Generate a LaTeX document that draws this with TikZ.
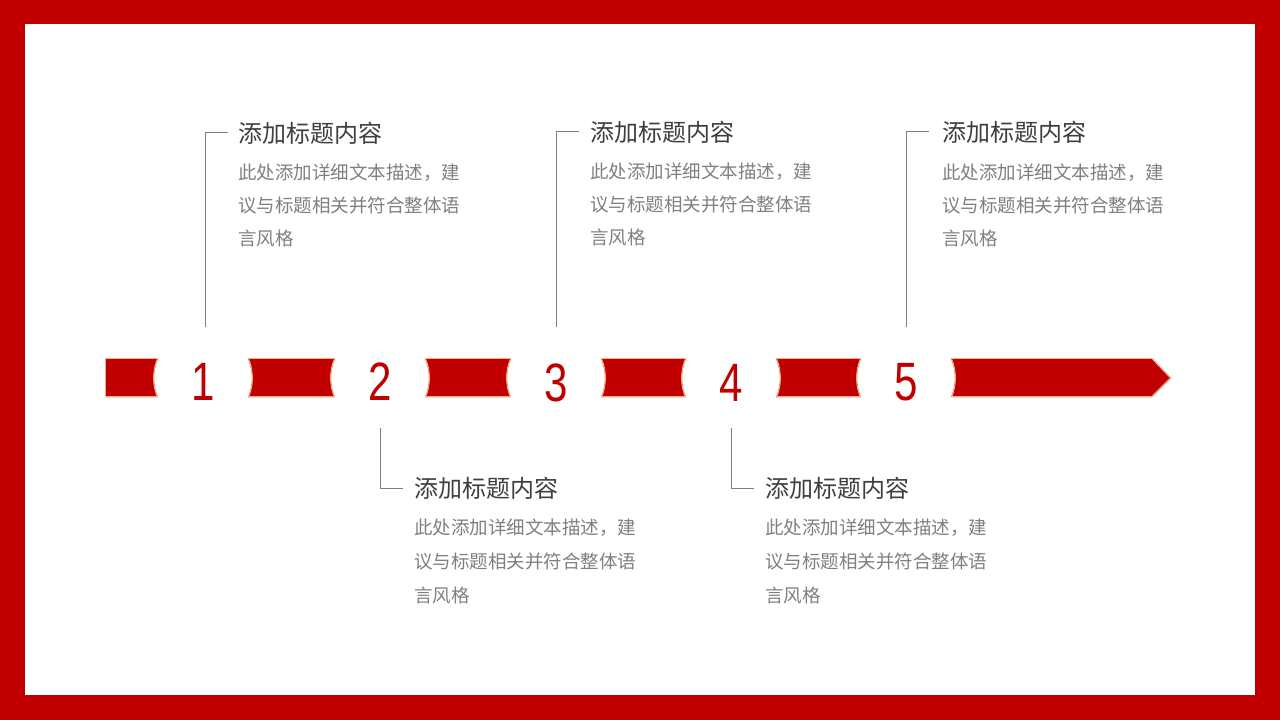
\documentclass[tikz,border=0pt]{standalone}
\usepackage{fontspec}
\setmainfont{Noto Sans CJK SC}
\newfontfamily\digitfont[FakeStretch=0.78]{Liberation Sans}
\definecolor{barred}{HTML}{C00000}
\definecolor{goldline}{HTML}{F4B183}
\definecolor{titlegray}{HTML}{3F3F3F}
\definecolor{bodygray}{HTML}{808080}
\definecolor{leadgray}{HTML}{7F7F7F}
\tikzset{
  titletext/.style={anchor=base west,inner sep=0pt,text=titlegray,font=\fontsize{24}{28}\selectfont},
  bodytext/.style={anchor=base west,inner sep=0pt,text=bodygray,font=\fontsize{18.5}{22}\selectfont},
  numtext/.style={anchor=base,inner sep=0pt,text=barred,font=\digitfont\fontsize{54}{60}\selectfont},
  leader/.style={draw=leadgray,line width=0.9pt},
}
\begin{document}
\begin{tikzpicture}[x=1pt,y=-1pt]
\useasboundingbox (0,0) rectangle (1280,720);
\fill[barred] (0,0) rectangle (1280,720);
\fill[white] (25,24) rectangle (1255,695);
% bar with concave cut-outs
\begin{scope}
\clip (105,358) -- (1152,358) -- (1171,378) -- (1152,397) -- (105,397) -- cycle;
\begin{scope}[even odd rule]
\clip (80,320) rectangle (1200,440)
  (203,378) circle[radius=49] (380,378) circle[radius=49] (556,378) circle[radius=49]
  (731,378) circle[radius=49] (906,378) circle[radius=49];
\fill[barred] (105,358) -- (1152,358) -- (1171,378) -- (1152,397) -- (105,397) -- cycle;
\draw[goldline,line width=1.8pt] (105,358) -- (1152,358) -- (1171,378) -- (1152,397) -- (105,397) -- cycle
  (203,378) circle[radius=49] (380,378) circle[radius=49] (556,378) circle[radius=49]
  (731,378) circle[radius=49] (906,378) circle[radius=49];
\end{scope}
\end{scope}
% numbers
\node[numtext] (n1) at (203,400) {1};
\node[numtext] (n2) at (380,400) {2};
\node[numtext] (n3) at (556,401) {3};
\node[numtext] (n4) at (731,401) {4};
\node[numtext] (n5) at (906,400) {5};
% top text blocks
\node[titletext] (t1) at (238,142) {添加标题内容};
\node[bodytext] (b1a) at (238,179) {此处添加详细文本描述，建};
\node[bodytext] (b1b) at (238,212) {议与标题相关并符合整体语};
\node[bodytext] (b1c) at (238,245) {言风格};
\node[titletext] (t3) at (590,141) {添加标题内容};
\node[bodytext] (b3a) at (590,178) {此处添加详细文本描述，建};
\node[bodytext] (b3b) at (590,211) {议与标题相关并符合整体语};
\node[bodytext] (b3c) at (590,244) {言风格};
\node[titletext] (t5) at (942,141) {添加标题内容};
\node[bodytext] (b5a) at (942,179) {此处添加详细文本描述，建};
\node[bodytext] (b5b) at (942,212) {议与标题相关并符合整体语};
\node[bodytext] (b5c) at (942,245) {言风格};
% bottom text blocks
\node[titletext] (t2) at (414,497) {添加标题内容};
\node[bodytext] (b2a) at (414,534) {此处添加详细文本描述，建};
\node[bodytext] (b2b) at (414,568) {议与标题相关并符合整体语};
\node[bodytext] (b2c) at (414,602) {言风格};
\node[titletext] (t4) at (765,497) {添加标题内容};
\node[bodytext] (b4a) at (765,534) {此处添加详细文本描述，建};
\node[bodytext] (b4b) at (765,568) {议与标题相关并符合整体语};
\node[bodytext] (b4c) at (765,602) {言风格};
% leader lines
\coordinate (l1s) at (205,327); \coordinate (l1c) at (205,132); \coordinate (l1e) at (228,132);
\coordinate (l3s) at (556,327); \coordinate (l3c) at (556,131); \coordinate (l3e) at (579,131);
\coordinate (l5s) at (906,327); \coordinate (l5c) at (906,131); \coordinate (l5e) at (929,131);
\coordinate (l2s) at (380,428); \coordinate (l2c) at (380,488); \coordinate (l2e) at (403,488);
\coordinate (l4s) at (731,428); \coordinate (l4c) at (731,488); \coordinate (l4e) at (754,488);
\draw[leader] (l1s) -- (l1c) -- (l1e);
\draw[leader] (l3s) -- (l3c) -- (l3e);
\draw[leader] (l5s) -- (l5c) -- (l5e);
\draw[leader] (l2s) -- (l2c) -- (l2e);
\draw[leader] (l4s) -- (l4c) -- (l4e);
\end{tikzpicture}
\end{document}
